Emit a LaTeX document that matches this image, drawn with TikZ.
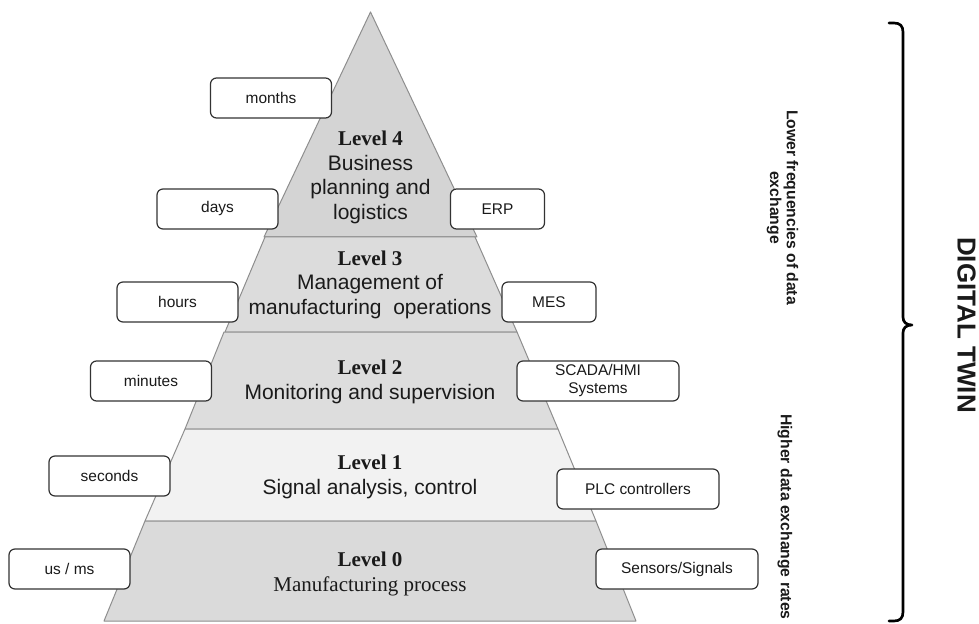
\documentclass[tikz,border=0pt]{standalone}
\usepackage{fontspec}
\setmainfont{Liberation Sans}
\newfontfamily\serifface{Liberation Serif}

\definecolor{edgegray}{HTML}{8E8E8E}
\definecolor{fillfour}{HTML}{D4D4D4}
\definecolor{fillthree}{HTML}{DCDCDC}
\definecolor{filltwo}{HTML}{DDDDDD}
\definecolor{fillone}{HTML}{F2F2F2}
\definecolor{fillzero}{HTML}{DADADA}
\definecolor{boxedge}{HTML}{333333}
\definecolor{inktext}{HTML}{1A1A1A}

\begin{document}
\begin{tikzpicture}[x=0.75pt,y=-0.75pt,
  layer/.style={draw=edgegray,line width=0.75pt,line join=round},
  lvtext/.style={align=center,inner sep=0pt,text=inktext,
    font=\fontsize{15.75}{18.4}\selectfont},
  tagbox/.style={draw=boxedge,line width=0.9pt,rounded corners=4.5pt,fill=white,
    minimum height=30pt,inner sep=0pt,align=center,text=inktext,
    font=\fontsize{11.6}{13.5}\selectfont},
  tagS/.style={tagbox,minimum width=90.75pt},
  tagM/.style={tagbox,minimum width=70.5pt},
  tagL/.style={tagbox,minimum width=121.5pt},
  sidetext/.style={rotate=-90,align=center,inner sep=0pt,text=inktext,
    font=\fontsize{11.8}{12.6}\selectfont\bfseries},
]
\useasboundingbox (0,0) rectangle (979,624);

% pyramid layers, top to bottom
\draw[layer,fill=fillfour]  (370.5,12) -- (477,237) -- (264,237) -- cycle;
\draw[layer,fill=fillthree] (265,237) -- (475,237) -- (517,332) -- (225,332) -- cycle;
\draw[layer,fill=filltwo]   (224,332) -- (517,332) -- (558,429) -- (185,429) -- cycle;
\draw[layer,fill=fillone]   (185,429) -- (558,429) -- (596,521) -- (145,521) -- cycle;
\draw[layer,fill=fillzero]  (145,521) -- (596,521) -- (636,621) -- (104,621) -- cycle;

% level captions
\node[lvtext] (lvl4) at (370.5,177.5) {{\serifface\bfseries Level 4}\\Business\\planning and\\logistics};
\node[lvtext] (lvl3) at (370,284.5) {{\serifface\bfseries Level 3}\\Management of\\manufacturing~ operations};
\node[lvtext] (lvl2) at (370,382) {{\serifface\bfseries Level 2}\\Monitoring and supervision};
\node[lvtext] (lvl1) at (370,477) {{\serifface\bfseries Level 1}\\Signal analysis, control};
\node[lvtext] (lvl0) at (370,574) {{\serifface\bfseries Level 0}\\{\serifface Manufacturing process}};

% time scales (left) and systems (right)
\node[tagS] (months)  at (271,98)    {months};
\node[tagS] (days)    at (217.5,209) {days};
\node[tagM] (erp)     at (497.5,209) {ERP};
\node[tagS] (hours)   at (177.5,302) {hours};
\node[tagM] (mes)     at (549,302)   {MES};
\node[tagS] (minutes) at (151,381)   {minutes};
\node[tagL] (scada)   at (598,381)   {SCADA/HMI\\Systems};
\node[tagS] (seconds) at (109.5,476) {seconds};
\node[tagL] (plc)     at (638,489)   {PLC controllers};
\node[tagS] (usms)    at (69.5,569)  {us / ms};
\node[tagL] (sensors) at (677,569)   {Sensors/Signals};

% exchange-rate notes
\node[sidetext] (lowfreq)  at (782.5,207.5) {Lower frequencies of data\\exchange};
\node[sidetext] (highfreq) at (785,517)     {Higher data exchange rates};

% brace spanning all levels
\draw[line width=2pt,line cap=round,line join=round]
  (889,23) -- (894,23) .. controls (900,23) and (903,26) .. (903,32)
  -- (903,317) .. controls (903,322) and (906,325) .. (912,325)
  .. controls (906,325) and (903,328) .. (903,333)
  -- (903,612) .. controls (903,618) and (900,621) .. (894,621) -- (889,621);

\node[rotate=-90,anchor=base,inner sep=0pt,text=inktext,
  font=\fontsize{19.5}{22}\selectfont\bfseries] (twin) at (957.5,325) {DIGITAL TWIN};
\end{tikzpicture}
\end{document}
